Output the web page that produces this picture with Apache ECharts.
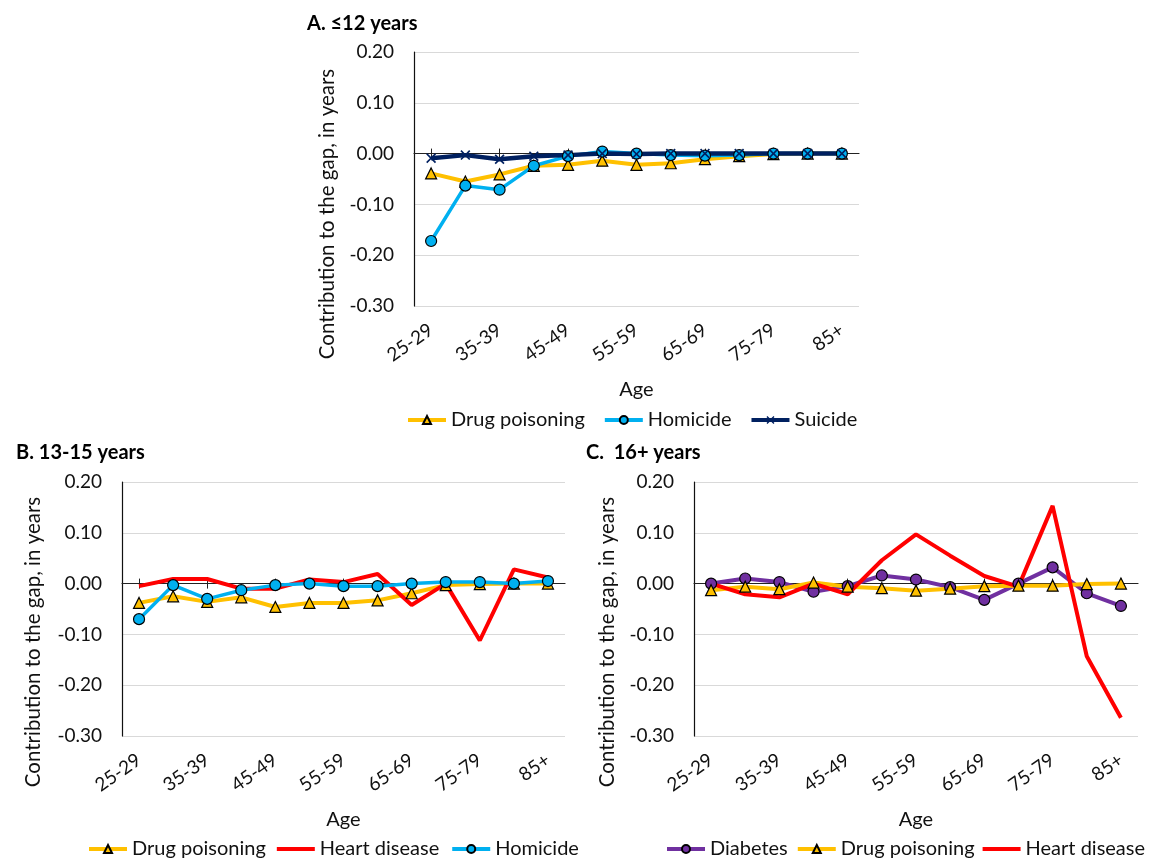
<!DOCTYPE html>
<html>
<head>
<meta charset="utf-8">
<script src="https://cdn.jsdelivr.net/npm/echarts@6/dist/echarts.min.js"></script>
<style>
  html, body { margin: 0; padding: 0; background: #fff; }
  #chart { width: 1152px; height: 861px; }
</style>
</head>
<body>
<div id="chart"></div>
<script>
// Age groups on the x axis (labels shown on every other group)
const ageGroups = ['25-29', '30-34', '35-39', '40-44', '45-49', '50-54', '55-59',
  '60-64', '65-69', '70-74', '75-79', '80-84', '85+'];

// Y axis range and tick step (years)
const yMin = -0.3;
const yMax = 0.2;
const yStep = 0.1;

// Panel A: ≤12 years of schooling
const drugA = [-0.039, -0.055, -0.041, -0.024, -0.022, -0.014, -0.022, -0.019, -0.011, -0.005, -0.001, 0, 0];
const homicideA = [-0.172, -0.063, -0.071, -0.024, -0.005, 0.004, 0, -0.003, -0.004, -0.003, 0, 0, 0];
const suicideA = [-0.009, -0.003, -0.011, -0.005, -0.003, 0, -0.001, 0, 0, 0, 0, 0, 0];

// Panel B: 13-15 years
const drugB = [-0.038, -0.025, -0.036, -0.027, -0.046, -0.038, -0.038, -0.033, -0.019, -0.003, -0.001, 0, 0];
const heartB = [-0.005, 0.009, 0.009, -0.010, -0.010, 0.008, 0.003, 0.019, -0.042, 0, -0.112, 0.028, 0.012];
const homicideB = [-0.070, -0.003, -0.030, -0.013, -0.003, 0, -0.005, -0.005, 0, 0.003, 0.003, 0, 0.005];

// Panel C: 16+ years
const diabetesC = [0, 0.010, 0.003, -0.016, -0.005, 0.016, 0.008, -0.007, -0.032, 0, 0.032, -0.019, -0.044];
const drugC = [-0.013, -0.006, -0.011, 0.002, -0.006, -0.009, -0.014, -0.010, -0.005, -0.004, -0.004, -0.001, 0];
const heartC = [0, -0.021, -0.027, 0, -0.021, 0.046, 0.097, 0.055, 0.015, -0.006, 0.153, -0.143, -0.264];

const FONT = 'Lato, "Open Sans", sans-serif';
const TEXT = '#111';

const COLORS = {
  drug: '#FFC000',
  homicide: '#00B0F0',
  suicide: '#002060',
  heart: '#FF0000',
  diabetes: '#7030A0'
};

const CROSS = 'path://M0,1.2 L1.2,0 L5,3.8 L8.8,0 L10,1.2 L6.2,5 L10,8.8 L8.8,10 L5,6.2 L1.2,10 L0,8.8 L3.8,5 Z';
const PLAIN_LINE = 'path://M0,0 L38,0 L38,4 L0,4 Z';

const grids = [
  { left: 414, top: 52, width: 445, height: 254 },
  { left: 122, top: 482, width: 443, height: 254 },
  { left: 694, top: 482, width: 444, height: 254 }
];

const xAxes = [];
const yAxes = [];
grids.forEach((g, i) => {
  // labelled category axis along the bottom of the plot
  xAxes.push({
    type: 'category', gridIndex: i, data: ageGroups, position: 'bottom',
    boundaryGap: true,
    axisLine: { show: false, onZero: false },
    axisTick: { show: false },
    axisLabel: {
      interval: 1, rotate: 35, margin: 22,
      fontFamily: FONT, fontSize: 19, color: TEXT
    },
    splitLine: { show: false },
    name: 'Age', nameLocation: 'middle', nameGap: 74,
    nameTextStyle: { fontFamily: FONT, fontSize: 20, color: TEXT }
  });
  // zero line with tick marks pointing down
  xAxes.push({
    type: 'category', gridIndex: i, data: ageGroups, position: 'bottom',
    boundaryGap: true,
    axisLine: { show: true, onZero: true, onZeroAxisIndex: i, lineStyle: { color: '#222', width: 1.2 } },
    axisTick: { show: true, alignWithLabel: true, length: 5, lineStyle: { color: '#222' } },
    axisLabel: { show: false },
    splitLine: { show: false }
  });
  // tick marks pointing up from the zero line
  xAxes.push({
    type: 'category', gridIndex: i, data: ageGroups, position: 'top',
    boundaryGap: true,
    axisLine: { show: false, onZero: true, onZeroAxisIndex: i },
    axisTick: { show: true, alignWithLabel: true, length: 5, lineStyle: { color: '#222' } },
    axisLabel: { show: false },
    splitLine: { show: false }
  });
  yAxes.push({
    type: 'value', gridIndex: i, min: yMin, max: yMax, interval: yStep,
    axisLine: { show: true, lineStyle: { color: '#111', width: 1.2 } },
    axisTick: { show: false },
    axisLabel: {
      margin: 20, fontFamily: FONT, fontSize: 19, color: TEXT,
      formatter: v => v.toFixed(2)
    },
    splitLine: { show: true, lineStyle: { color: '#d9d9d9', width: 1.2 } }
  });
});

function lineSeries(name, data, panel, color, opts) {
  const o = opts || {};
  return {
    type: 'line', name, data,
    xAxisIndex: panel * 3, yAxisIndex: panel,
    color,
    lineStyle: { color, width: o.width || 4 },
    symbol: o.symbol || 'none',
    symbolSize: o.size || 10,
    showSymbol: !!o.symbol,
    itemStyle: {
      color: o.fill || color,
      borderColor: o.border || '#000',
      borderWidth: o.borderWidth == null ? 1.2 : o.borderWidth
    },
    emphasis: { disabled: true },
    animation: false
  };
}

const series = [
  lineSeries('Drug poisoning', drugA, 0, COLORS.drug, { symbol: 'triangle', size: 11 }),
  lineSeries('Homicide', homicideA, 0, COLORS.homicide, { symbol: 'circle', size: 11, width: 3.5 }),
  lineSeries('Suicide', suicideA, 0, COLORS.suicide, { symbol: CROSS, size: 10, border: COLORS.suicide, borderWidth: 0, width: 4.5 }),

  lineSeries('Drug poisoning', drugB, 1, COLORS.drug, { symbol: 'triangle', size: 11 }),
  lineSeries('Heart disease', heartB, 1, COLORS.heart, { width: 4 }),
  lineSeries('Homicide', homicideB, 1, COLORS.homicide, { symbol: 'circle', size: 11, width: 3.5 }),

  lineSeries('Diabetes', diabetesC, 2, COLORS.diabetes, { symbol: 'circle', size: 11, width: 4 }),
  lineSeries('Drug poisoning', drugC, 2, COLORS.drug, { symbol: 'triangle', size: 11 }),
  lineSeries('Heart disease', heartC, 2, COLORS.heart, { width: 4 })
];

function legendItem(name) {
  if (name === 'Heart disease') {
    return { name, icon: PLAIN_LINE, itemStyle: { color: COLORS.heart, borderWidth: 0 } };
  }
  return { name };
}

function legend(left, top, names, gap) {
  return {
    left, top, orient: 'horizontal', padding: 0,
    data: names.map(legendItem),
    itemWidth: 38, itemHeight: 10, itemGap: gap,
    lineStyle: { width: 4 },
    textStyle: { fontFamily: FONT, fontSize: 20, color: TEXT },
    selectedMode: false
  };
}

const yName = 'Contribution to the gap, in years';
function yTitle(x, y) {
  return {
    type: 'text', x, y, rotation: Math.PI / 2,
    style: {
      text: yName, fontFamily: FONT, fontSize: 20.5, fill: TEXT,
      align: 'center', verticalAlign: 'middle'
    }
  };
}

const titleStyle = { fontFamily: FONT, fontSize: 20, fontWeight: 'bold', color: '#000' };

const option = {
  backgroundColor: '#fff',
  animation: false,
  title: [
    { text: 'A. ≤12 years', left: 302, top: 9, textStyle: titleStyle },
    { text: 'B. 13-15 years', left: 11, top: 438, textStyle: titleStyle },
    { text: 'C.  16+ years', left: 581, top: 438, textStyle: titleStyle }
  ],
  grid: grids,
  xAxis: xAxes,
  yAxis: yAxes,
  legend: [
    legend(406, 410, ['Drug poisoning', 'Homicide', 'Suicide'], 18),
    legend(87, 839, ['Drug poisoning', 'Heart disease', 'Homicide'], 11),
    legend(665, 839, ['Diabetes', 'Drug poisoning', 'Heart disease'], 8)
  ],
  graphic: [
    yTitle(327, 214),
    yTitle(33, 642),
    yTitle(607, 642)
  ],
  series
};

const chart = echarts.init(document.getElementById('chart'), null, { renderer: 'canvas' });
chart.setOption(option);
</script>
</body>
</html>
